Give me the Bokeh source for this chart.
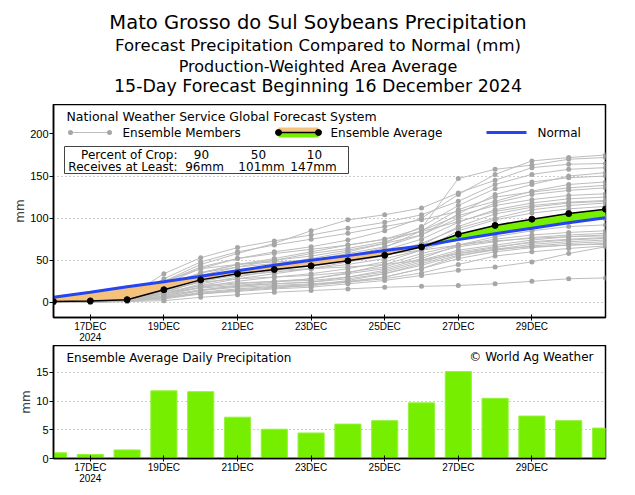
import numpy as np
from bokeh.plotting import figure
from bokeh.models import FixedTicker, Range1d, Label
from bokeh.layouts import column
from bokeh.embed import file_html
from bokeh.resources import INLINE

# ---------------- data ----------------
days = list(range(16))                      # day offset from 16 DEC 2024
tick_days = [1, 3, 5, 7, 9, 11, 13]
tick_labels = ["17DEC\n2024", "19DEC", "21DEC", "23DEC", "25DEC", "27DEC", "29DEC"]

ens_avg = [1.0, 1.7, 3.2, 15.0, 26.7, 33.9, 39.0, 43.4, 49.4, 56.0, 65.7, 80.9, 91.4, 98.8, 105.4, 110.7]
normal = [6.0, 12.0, 18.5, 24.5, 31.0, 37.5, 44.0, 50.0, 55.5, 61.5, 67.0, 74.5, 81.5, 88.0, 94.5, 100.5]
daily_avg = [1.0, 0.7, 1.5, 11.8, 11.65, 7.2, 5.1, 4.45, 6.0, 6.6, 9.7, 15.15, 10.5, 7.4, 6.6, 5.3]

members = [
    [0, 1, 4, 22, 40, 52, 60, 66, 74, 85, 100, 128, 152, 168, 172, 175],
    [1, 2, 5, 18, 35, 45, 52, 60, 68, 75, 88, 147, 158, 163, 170, 172],
    [0, 1, 3, 25, 45, 58, 70, 85, 98, 104, 112, 130, 145, 160, 164, 165],
    [0, 2, 6, 34, 53, 65, 73, 80, 88, 95, 104, 120, 140, 152, 158, 160],
    [0, 1, 2, 12, 25, 35, 42, 50, 58, 66, 80, 105, 128, 140, 150, 154],
    [0, 1, 3, 15, 28, 38, 45, 52, 60, 70, 90, 115, 135, 143, 148, 150],
    [1, 2, 4, 28, 48, 60, 68, 75, 82, 90, 98, 108, 120, 132, 140, 143],
    [0, 0, 2, 10, 22, 30, 38, 45, 55, 65, 85, 110, 125, 131, 136, 139],
    [0, 1, 3, 20, 35, 45, 50, 55, 62, 70, 80, 100, 118, 128, 133, 136],
    [0, 1, 5, 18, 32, 42, 50, 58, 64, 72, 85, 103, 115, 122, 127, 129],
    [0, 1, 2, 14, 28, 36, 42, 48, 55, 62, 75, 95, 110, 118, 123, 125],
    [0, 2, 6, 24, 42, 52, 58, 63, 68, 75, 84, 96, 108, 115, 119, 121],
    [0, 1, 3, 10, 20, 28, 34, 40, 48, 55, 68, 90, 105, 113, 118, 120],
    [1, 2, 4, 16, 30, 38, 43, 47, 52, 58, 70, 88, 100, 110, 115, 118],
    [0, 1, 2, 8, 18, 25, 30, 34, 40, 48, 62, 85, 98, 106, 111, 114],
    [0, 1, 3, 20, 35, 42, 46, 50, 55, 60, 68, 80, 88, 95, 100, 103],
    [0, 1, 4, 12, 25, 32, 36, 40, 45, 52, 62, 76, 85, 92, 97, 99],
    [0, 1, 2, 6, 14, 20, 24, 28, 34, 40, 52, 68, 78, 85, 90, 92],
    [0, 0, 2, 10, 18, 22, 25, 28, 35, 45, 58, 68, 75, 80, 83, 85],
    [0, 1, 3, 14, 24, 28, 30, 32, 36, 42, 55, 66, 72, 77, 80, 82],
    [0, 1, 2, 8, 15, 19, 22, 24, 30, 38, 50, 62, 68, 74, 78, 80],
    [0, 1, 5, 25, 40, 45, 48, 50, 53, 57, 62, 68, 73, 76, 78, 79],
    [0, 0, 1, 4, 10, 14, 17, 20, 26, 34, 46, 58, 65, 72, 75, 77],
    [0, 1, 3, 12, 20, 23, 25, 26, 30, 36, 48, 60, 66, 71, 74, 76],
    [0, 1, 2, 7, 14, 18, 20, 22, 25, 30, 40, 55, 63, 69, 72, 74],
    [1, 2, 4, 10, 17, 20, 22, 24, 28, 34, 44, 56, 62, 67, 70, 72],
    [0, 1, 2, 5, 11, 15, 18, 20, 24, 30, 40, 52, 60, 65, 68, 70],
    [0, 1, 3, 18, 30, 35, 38, 40, 42, 45, 50, 58, 63, 66, 68, 69],
    [0, 0, 2, 6, 10, 13, 16, 18, 22, 26, 32, 38, 42, 48, 58, 66],
    [0, 1, 2, 5, 12, 16, 19, 21, 24, 28, 35, 45, 55, 60, 64, 67],
    [0, 0, 1, 2, 6, 9, 12, 14, 16, 18, 19, 20, 22, 25, 28, 29],
]

crop_pct = ["90", "50", "10"]
crop_mm = ["96mm", "101mm", "147mm"]

title_lines = [
    "Mato Grosso do Sul Soybeans Precipitation",
    "Forecast Precipitation Compared to Normal (mm)",
    "Production-Weighted Area Average",
    "15-Day Forecast Beginning 16 December 2024",
]

# ---------------- styles ----------------
FONT = "DejaVu Sans"
TICKFONT = "Liberation Sans"
GREEN = "#76EE00"
ORANGE = "#F5C27E"
BLUE = "#2545F0"
GRAY_LINE = "#BDBDBD"
GRAY_DOT = "#A6A6A6"

PAGE_W = 635
X0, X1 = 0, 15
Y0, Y1 = -18, 235
# page pixel geometry of the frames (used only to place decorations / texts)
FL, FR, FT, FB = 53, 605, 104, 317
BFT, BFB = 345, 458
B0, B1 = 0, 19.7


def top_xy(px, py):
    return X0 + (px - FL) / (FR - FL) * (X1 - X0), Y1 - (py - FT) / (FB - FT) * (Y1 - Y0)


def bot_xy(px, py):
    return X0 + (px - FL) / (FR - FL) * (X1 - X0), B1 - (py - BFT) / (BFB - BFT) * (B1 - B0)


def style_axes(p):
    p.outline_line_color = "black"
    p.outline_line_width = 1.5
    p.outline_line_alpha = 1
    for ax in (p.xaxis[0], p.yaxis[0]):
        ax.axis_line_color = "black"
        ax.axis_line_width = 1.5
        ax.major_tick_line_color = "black"
        ax.minor_tick_line_color = None
        ax.major_label_text_font = TICKFONT
        ax.major_label_text_color = "black"
    p.xaxis.major_label_text_font_size = "10px"
    p.yaxis.major_label_text_font_size = "11px"
    p.xaxis.ticker = FixedTicker(ticks=tick_days)
    p.xaxis.major_label_overrides = {d: l for d, l in zip(tick_days, tick_labels)}
    p.xaxis.major_label_text_line_height = 1.0
    p.xaxis.major_tick_in = 3
    p.xaxis.major_tick_out = 3
    p.xaxis.major_label_standoff = 0
    p.yaxis.major_tick_in = 0
    p.yaxis.major_tick_out = 4
    p.yaxis.major_label_standoff = 1
    p.yaxis.axis_label = "mm"
    p.yaxis.axis_label_text_font = FONT
    p.yaxis.axis_label_text_font_size = "12px"
    p.yaxis.axis_label_text_font_style = "normal"
    p.yaxis.axis_label_standoff = 0
    p.xgrid.grid_line_color = None
    p.ygrid.grid_line_color = "#9a9a9a"
    p.ygrid.grid_line_dash = "1 3"
    p.ygrid.grid_line_width = 1


def lab(p, xy, text, size="12px", align="left", baseline="middle"):
    p.add_layout(Label(x=xy[0], y=xy[1], text=text, text_font=FONT, text_font_size=size,
                       text_baseline=baseline, text_align=align, text_color="black"))


# ---------------- title strip (page-pixel coordinates) ----------------
p0 = figure(frame_width=FR - FL, frame_height=FT, x_range=Range1d(FL, FR), y_range=Range1d(FT, 0),
            output_backend="svg", toolbar_location=None, x_axis_location=None, y_axis_location=None,
            min_border_left=FL, min_border_right=26, min_border_top=0, min_border_bottom=0)
p0.outline_line_color = None
p0.xgrid.grid_line_color = None
p0.ygrid.grid_line_color = None
for txt, py, fs in zip(title_lines, [21.5, 45, 65.5, 85.5], ["19.5px", "16.5px", "16px", "17.4px"]):
    lab(p0, (PAGE_W / 2, py), txt, size=fs, align="center", baseline="middle")

# ---------------- top figure ----------------
p1 = figure(frame_width=FR - FL, frame_height=FB - FT, x_range=Range1d(X0, X1), y_range=Range1d(Y0, Y1),
            output_backend="svg", toolbar_location=None,
            min_border_left=FL, min_border_right=26, min_border_top=0, min_border_bottom=BFT - FB)
style_axes(p1)
p1.yaxis.ticker = FixedTicker(ticks=[0, 50, 100, 150, 200])
p1.ygrid.ticker = FixedTicker(ticks=[0, 50, 100, 150])

# ensemble members
for m in members:
    p1.line(days, m, line_color=GRAY_LINE, line_width=1)
    p1.scatter(days, m, size=5, fill_color=GRAY_DOT, line_color=None)

# fill between ensemble average and normal
xs, a_s, n_s = [], [], []
for i in range(len(days)):
    if i > 0:
        d0 = ens_avg[i - 1] - normal[i - 1]
        d1 = ens_avg[i] - normal[i]
        if d0 * d1 < 0:
            t = d0 / (d0 - d1)
            xc = days[i - 1] + t * (days[i] - days[i - 1])
            yc = ens_avg[i - 1] + t * (ens_avg[i] - ens_avg[i - 1])
            xs.append(xc); a_s.append(yc); n_s.append(yc)
    xs.append(days[i]); a_s.append(ens_avg[i]); n_s.append(normal[i])
a_arr = np.array(a_s); n_arr = np.array(n_s)
top_arr = np.maximum(a_arr, n_arr)
p1.varea(x=xs, y1=a_arr, y2=top_arr, fill_color=ORANGE)
p1.varea(x=xs, y1=n_arr, y2=top_arr, fill_color=GREEN)

p1.line(days, normal, line_color=BLUE, line_width=3)
p1.line(days, ens_avg, line_color="black", line_width=1.5)
p1.scatter(days, ens_avg, size=6, fill_color="black", line_color="black")

# ---- legend decorations ----
lab(p1, top_xy(66, 116), "National Weather Service Global Forecast System", size="12.5px")
(ax0, ay), (ax1, _) = top_xy(70, 132), top_xy(109, 132)
p1.line([ax0, ax1], [ay, ay], line_color=GRAY_LINE, line_width=1)
p1.scatter([ax0, ax1], [ay, ay], size=5, fill_color=GRAY_DOT, line_color=None)
lab(p1, top_xy(122, 132), "Ensemble Members")
(bx0, by), (bx1, _) = top_xy(278, 132), top_xy(318, 132)
_, byt = top_xy(0, 127)
_, byb = top_xy(0, 137)
p1.quad(left=bx0, right=bx1, top=byt, bottom=by, fill_color=ORANGE, line_color=None)
p1.quad(left=bx0, right=bx1, top=by, bottom=byb, fill_color=GREEN, line_color=None)
p1.line([bx0, bx1], [by, by], line_color="black", line_width=1.5)
p1.scatter([bx0, bx1], [by, by], size=6, fill_color="black", line_color="black")
lab(p1, top_xy(330, 132), "Ensemble Average")
(cx0, cy), (cx1, _) = top_xy(486, 132), top_xy(526, 132)
p1.line([cx0, cx1], [cy, cy], line_color=BLUE, line_width=3)
lab(p1, top_xy(537, 132), "Normal")
(qx0, qy0), (qx1, qy1) = top_xy(64, 146), top_xy(348, 173)
p1.quad(left=qx0, right=qx1, top=qy0, bottom=qy1, fill_color="white", line_color="#444444", line_width=1)
lab(p1, top_xy(177, 154), "Percent of Crop:", align="right")
lab(p1, top_xy(177, 166), "Receives at Least:", align="right")
for cxp, pct in zip([201, 258, 314], crop_pct):
    lab(p1, top_xy(cxp, 154), pct, align="center")
for cxp, mm in zip([204, 261, 313], crop_mm):
    lab(p1, top_xy(cxp, 166), mm, align="center")

# ---------------- bottom figure ----------------
p2 = figure(frame_width=FR - FL, frame_height=BFB - BFT, x_range=Range1d(X0, X1), y_range=Range1d(B0, B1),
            output_backend="svg", toolbar_location=None,
            min_border_left=FL, min_border_right=26, min_border_top=0, min_border_bottom=30)
style_axes(p2)
p2.yaxis.ticker = FixedTicker(ticks=[0, 5, 10, 15])
p2.ygrid.ticker = FixedTicker(ticks=[5, 10, 15])
p2.vbar(x=days, top=daily_avg, width=0.71, bottom=0, fill_color=GREEN, line_color="#96F23C", line_width=1)

lab(p2, bot_xy(66, 357), "Ensemble Average Daily Precipitation")
lab(p2, bot_xy(593, 356), "\u00a9 World Ag Weather", align="right")

layout = column(p0, p1, p2, spacing=0)
open("out.html", "w").write(file_html(layout, INLINE))
